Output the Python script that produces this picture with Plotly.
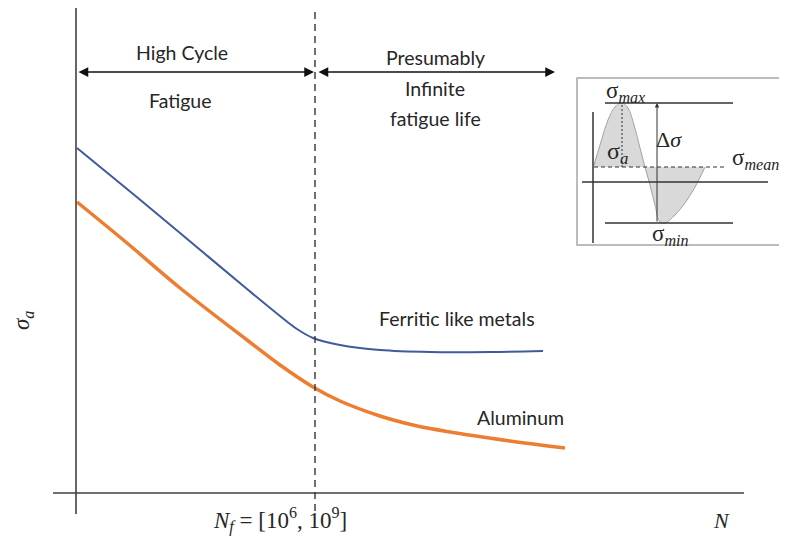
import plotly.graph_objects as go

# Schematic S-N curves (x: cycles in schematic units, y: stress amplitude in schematic units)
ferritic_x = [1, 51, 104, 171, 204, 221, 237, 264, 304, 354, 414, 467]
ferritic_y = [345, 304, 260, 204, 177, 164, 155, 148, 143, 141, 141, 142]

aluminum_x = [1, 51, 104, 171, 204, 237, 264, 304, 337, 371, 434, 489]
aluminum_y = [291, 250, 205, 153, 128, 106, 92, 77, 68, 61.5, 52, 45]

nf_limit = 239  # N_f position of the endurance limit

# Inset: stress cycle waveform
wave_x = [518, 524, 532, 539, 546, 552, 558, 564, 569, 574, 579, 584, 589, 599, 609, 619, 629]
wave_y = [328, 348, 373, 386, 390, 385, 368, 345, 326, 308, 288, 271, 270, 278, 290, 306, 326]
sigma_max = 390
sigma_min = 270
sigma_mean = 326
inset_zero = 311

SANS = "Lato, 'Open Sans', sans-serif"
SERIF = "'Liberation Serif', 'DejaVu Serif', serif"
TXT = "#262626"

fig = go.Figure()

# Inset frame
fig.add_shape(type="rect", x0=501, x1=707, y0=248, y1=415,
              line=dict(color="#a6a6a6", width=1.5), fillcolor="white", layer="below")

# Inset waveform lobes (filled)
upper = [(x, y) for x, y in zip(wave_x, wave_y) if x <= 569]
lower = [(x, y) for x, y in zip(wave_x, wave_y) if x >= 569]
for lobe in (upper, lower):
    xs = [p[0] for p in lobe] + [lobe[0][0]]
    ys = [p[1] for p in lobe] + [sigma_mean]
    fig.add_trace(go.Scatter(x=xs, y=ys, fill="toself", fillcolor="#d9d9d9",
                             mode="lines", line=dict(color="rgba(0,0,0,0)", width=0),
                             hoverinfo="skip", showlegend=False))
fig.add_trace(go.Scatter(x=wave_x, y=wave_y, mode="lines", line=dict(color="#a0a0a0", width=1, shape="spline"),
                         hoverinfo="skip", showlegend=False))

# Inset lines
fig.add_shape(type="line", x0=517, x1=517, y0=250, y1=381, line=dict(color="#333", width=1.5))
fig.add_shape(type="line", x0=506, x1=692, y0=inset_zero, y1=inset_zero, line=dict(color="#333", width=1.5))
fig.add_shape(type="line", x0=529, x1=657, y0=sigma_max, y1=sigma_max, line=dict(color="#333", width=1.3))
fig.add_shape(type="line", x0=529, x1=657, y0=sigma_min, y1=sigma_min, line=dict(color="#333", width=1.3))
fig.add_shape(type="line", x0=518, x1=651, y0=sigma_mean, y1=sigma_mean, line=dict(color="#333", width=1.1, dash="4px,3px"))
fig.add_shape(type="line", x0=546, x1=546, y0=sigma_mean, y1=sigma_max, line=dict(color="#333", width=1, dash="2px,2px"))
fig.add_annotation(x=581, y=sigma_max, ax=581, ay=sigma_min, xref="x", yref="y", axref="x", ayref="y",
                   showarrow=True, arrowhead=2, arrowsize=0.9, arrowwidth=1, arrowcolor="#333", text="")

# Main axes
fig.add_shape(type="line", x0=0, x1=0, y0=-21, y1=486, line=dict(color="#404040", width=1.6))
fig.add_shape(type="line", x0=-23, x1=668, y0=0, y1=0, line=dict(color="#404040", width=1.6))
fig.add_shape(type="line", x0=nf_limit, x1=nf_limit, y0=-18, y1=481,
              line=dict(color="#333", width=1.4, dash="7px,5px"))

# Curves
fig.add_trace(go.Scatter(x=ferritic_x, y=ferritic_y, mode="lines", name="Ferritic like metals",
                         line=dict(color="#3f5b9c", width=2, shape="spline", smoothing=1.0), showlegend=False))
fig.add_trace(go.Scatter(x=aluminum_x, y=aluminum_y, mode="lines", name="Aluminum",
                         line=dict(color="#ed7d31", width=3.5, shape="spline", smoothing=1.0), showlegend=False))

# Region arrows
for x0, x1 in ((1, nf_limit - 1), (nf_limit + 2, 479)):
    fig.add_annotation(x=x1, y=421, ax=x0, ay=421, xref="x", yref="y", axref="x", ayref="y",
                       showarrow=True, arrowhead=2, arrowside="end+start", arrowsize=1.3,
                       arrowwidth=1.5, arrowcolor="#111", text="")

def txt(x, y, s, size=19.5, font=SANS, **kw):
    fig.add_annotation(x=x, y=y, xref="x", yref="y", text=s, showarrow=False,
                       font=dict(family=font, size=size, color=TXT), **kw)

txt(106, 441, "High Cycle")
txt(104, 393, "Fatigue")
txt(359, 436, "Presumably")
txt(359, 405, "Infinite")
txt(359, 375, "fatigue life")
txt(381, 175, "Ferritic like metals")
txt(444, 76, "Aluminum")

txt(-53, 172, "<i>σ<sub>a</sub></i>", size=23, font=SERIF, textangle=-90)
txt(204, -27, "<i>N<sub>f</sub></i> = [10<sup>6</sup>, 10<sup>9</sup>]", size=23, font=SERIF)
txt(645, -27, "<i>N</i>", size=22, font=SERIF)

txt(550, 401, "σ<sub><i>max</i></sub>", size=23, font=SERIF)
txt(541, 340, "σ<sub><i>a</i></sub>", size=24, font=SERIF)
txt(593, 354, "Δ<i>σ</i>", size=22, font=SERIF)
txt(654, 334, "σ<sub><i>mean</i></sub>", size=23, font=SERIF, xanchor="left")
txt(594, 258, "σ<sub><i>min</i></sub>", size=23, font=SERIF)

# The page body adds an 8px offset; shift ranges so the marks land at the same spots
fig.update_layout(
    width=787, height=541,
    margin=dict(l=0, r=0, t=0, b=0),
    paper_bgcolor="white", plot_bgcolor="white",
    xaxis=dict(range=[-68, 719], visible=False, fixedrange=True),
    yaxis=dict(range=[-56, 485], visible=False, fixedrange=True),
    showlegend=False,
)

fig.write_html("out.html")
